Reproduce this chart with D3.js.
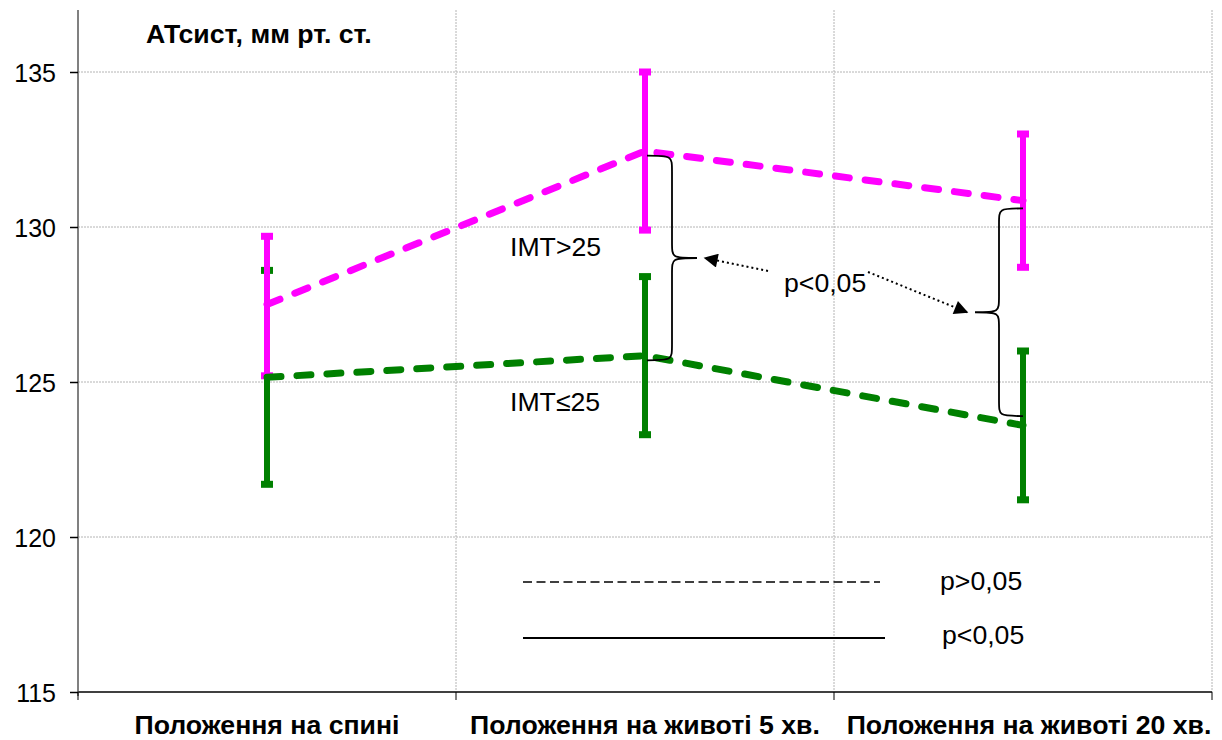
<!DOCTYPE html>
<html>
<head>
<meta charset="utf-8">
<script src="https://cdn.jsdelivr.net/npm/d3@7"></script>
<style>
  html, body { margin: 0; padding: 0; background: #fff; }
  svg { display: block; font-family: "Liberation Sans", Arial, sans-serif; }
</style>
</head>
<body>
<svg id="chart" width="1222" height="740"></svg>
<script>
// Categories (body position)
const categories = ["Положення на спині", "Положення на животі 5 хв.", "Положення на животі 20 хв."];

// Systolic BP, mean and error-bar limits
const imtHighMean = [127.5, 132.45, 130.85];
const imtHighUpper = [129.7, 135.0, 133.0];
const imtHighLower = [125.2, 129.9, 128.7];

const imtLowMean = [125.15, 125.85, 123.6];
const imtLowUpper = [128.6, 128.4, 126.0];
const imtLowLower = [121.7, 123.3, 121.2];

const yTicks = [115, 120, 125, 130, 135];

const FS = 26.67;
const svg = d3.select("#chart");
const margin = { left: 78, right: 10, top: 10, bottom: 48 };
const W = 1222, H = 740;

const x = d3.scaleBand().domain(categories).range([margin.left, W - margin.right]).padding(0);
const y = d3.scaleLinear().domain([115, 137]).range([H - margin.bottom, margin.top]);
const cx = c => x(c) + x.bandwidth() / 2;

// Gridlines
const grid = svg.append("g");
grid.selectAll("line.h").data(yTicks.filter(t => t > 115)).join("line")
  .attr("x1", margin.left).attr("x2", W - margin.right)
  .attr("y1", d => y(d)).attr("y2", d => y(d))
  .attr("stroke", "#b4b4b4").attr("stroke-width", 1).attr("stroke-dasharray", "2,1");
grid.selectAll("line.v").data([1, 2, 3]).join("line")
  .attr("x1", i => margin.left + x.bandwidth() * i)
  .attr("x2", i => margin.left + x.bandwidth() * i)
  .attr("y1", margin.top).attr("y2", y(115))
  .attr("stroke", "#b4b4b4").attr("stroke-width", 1).attr("stroke-dasharray", "2,1");

// Y axis
const yAxis = svg.append("g").attr("transform", `translate(${margin.left},0)`)
  .call(d3.axisLeft(y).tickValues(yTicks).tickSize(8).tickPadding(14));
yAxis.select(".domain").attr("stroke", "#808080").attr("stroke-width", 2)
  .attr("d", `M0,${margin.top}V${y(115) + 4}`);
yAxis.selectAll(".tick line").attr("stroke", "#000").attr("stroke-width", 1.5);
yAxis.selectAll(".tick text").attr("font-size", 25).attr("fill", "#000")
  .attr("font-family", "Liberation Sans, Arial, sans-serif").attr("dy", "0.36em");

// X axis
const xAxis = svg.append("g").attr("transform", `translate(0,${y(115)})`);
xAxis.append("line").attr("x1", margin.left).attr("x2", W - margin.right)
  .attr("y1", 0).attr("y2", 0).attr("stroke", "#404040").attr("stroke-width", 2);
xAxis.selectAll("line.t").data([0, 1, 2, 3]).join("line")
  .attr("x1", i => margin.left + x.bandwidth() * i).attr("x2", i => margin.left + x.bandwidth() * i)
  .attr("y1", 0).attr("y2", 8).attr("stroke", "#000").attr("stroke-width", 1);
xAxis.selectAll("text").data(categories).join("text")
  .attr("x", (d, i) => cx(d) + (i === 2 ? 6 : 0)).attr("y", 42)
  .attr("text-anchor", "middle").attr("font-weight", "bold").attr("font-size", FS)
  .attr("fill", "#000").text(d => d);

// Title
svg.append("text").attr("x", 146).attr("y", 43).attr("font-weight", "bold")
  .attr("font-size", FS).attr("fill", "#000").text("АТсист, мм рт. ст.");

function drawBars(upper, lower, color) {
  const g = svg.append("g");
  categories.forEach((c, i) => {
    const px = cx(c);
    g.append("line").attr("x1", px).attr("x2", px)
      .attr("y1", y(upper[i])).attr("y2", y(lower[i]))
      .attr("stroke", color).attr("stroke-width", 6);
    [upper[i], lower[i]].forEach(v => {
      g.append("rect").attr("x", px - 6).attr("y", y(v) - 3.5)
        .attr("width", 12).attr("height", 7).attr("fill", color);
    });
  });
}
function drawLine(mean, color) {
  const line = d3.line().x((d, i) => cx(categories[i])).y(d => y(d));
  svg.append("path").datum(mean).attr("d", line)
    .attr("fill", "none").attr("stroke", color).attr("stroke-width", 7)
    .attr("stroke-linecap", "round").attr("stroke-dasharray", "14,16");
}

const GREEN = "#008000", PINK = "#ff00ff";
drawBars(imtLowUpper, imtLowLower, GREEN);
drawBars(imtHighUpper, imtHighLower, PINK);
drawLine(imtLowMean, GREEN);
drawLine(imtHighMean, PINK);

// Curly braces between the groups
function brace(xEdge, yTop, yBot, dir, depth) {
  const y0 = y(yTop), y1 = y(yBot), ym = (y0 + y1) / 2;
  const xm = xEdge + dir * depth / 2, xt = xEdge + dir * depth;
  const r = 16;
  const p = d3.path();
  p.moveTo(xEdge, y0);
  p.bezierCurveTo(xm, y0, xm, y0, xm, y0 + r);
  p.lineTo(xm, ym - r);
  p.bezierCurveTo(xm, ym, xm, ym, xt, ym);
  p.moveTo(xt, ym);
  p.bezierCurveTo(xm, ym, xm, ym, xm, ym + r);
  p.lineTo(xm, y1 - r);
  p.bezierCurveTo(xm, y1, xm, y1, xEdge, y1);
  svg.append("path").attr("d", p.toString()).attr("fill", "none")
    .attr("stroke", "#000").attr("stroke-width", 1.8);
  return [xt, ym];
}
const tip1 = brace(cx(categories[1]) + 2, 132.3, 125.7, 1, 50);
const tip2 = brace(cx(categories[2]), 130.6, 123.9, -1, 48);

// Dotted arrows from the p-value label to the braces
svg.append("defs").append("marker").attr("id", "arrow")
  .attr("viewBox", "0 0 10 10").attr("refX", 9).attr("refY", 5)
  .attr("markerWidth", 18).attr("markerHeight", 14).attr("orient", "auto")
  .attr("markerUnits", "userSpaceOnUse")
  .append("path").attr("d", "M0,0L10,5L0,10Z").attr("fill", "#000");

svg.append("line").attr("x1", 768).attr("y1", 271).attr("x2", tip1[0] + 8).attr("y2", tip1[1])
  .attr("stroke", "#000").attr("stroke-width", 2).attr("stroke-dasharray", "2,3")
  .attr("marker-end", "url(#arrow)");
svg.append("line").attr("x1", 868).attr("y1", 272).attr("x2", tip2[0] - 8).attr("y2", tip2[1])
  .attr("stroke", "#000").attr("stroke-width", 2).attr("stroke-dasharray", "2,3")
  .attr("marker-end", "url(#arrow)");

svg.append("text").attr("x", 784).attr("y", 292).attr("font-size", FS).attr("fill", "#000").text("p<0,05");
svg.append("text").attr("x", 510).attr("y", 256).attr("font-size", FS).attr("fill", "#000").text("IMT>25");
svg.append("text").attr("x", 510).attr("y", 411).attr("font-size", FS).attr("fill", "#000").text("IMT≤25");

// Legend
svg.append("line").attr("x1", 523).attr("x2", 880).attr("y1", 582).attr("y2", 582)
  .attr("stroke", "#000").attr("stroke-width", 1.5).attr("stroke-dasharray", "9,4.5");
svg.append("line").attr("x1", 523).attr("x2", 885).attr("y1", 638).attr("y2", 638)
  .attr("stroke", "#000").attr("stroke-width", 2);
svg.append("text").attr("x", 940).attr("y", 590).attr("font-size", FS).attr("fill", "#000").text("p>0,05");
svg.append("text").attr("x", 942).attr("y", 644).attr("font-size", FS).attr("fill", "#000").text("p<0,05");
</script>
</body>
</html>
